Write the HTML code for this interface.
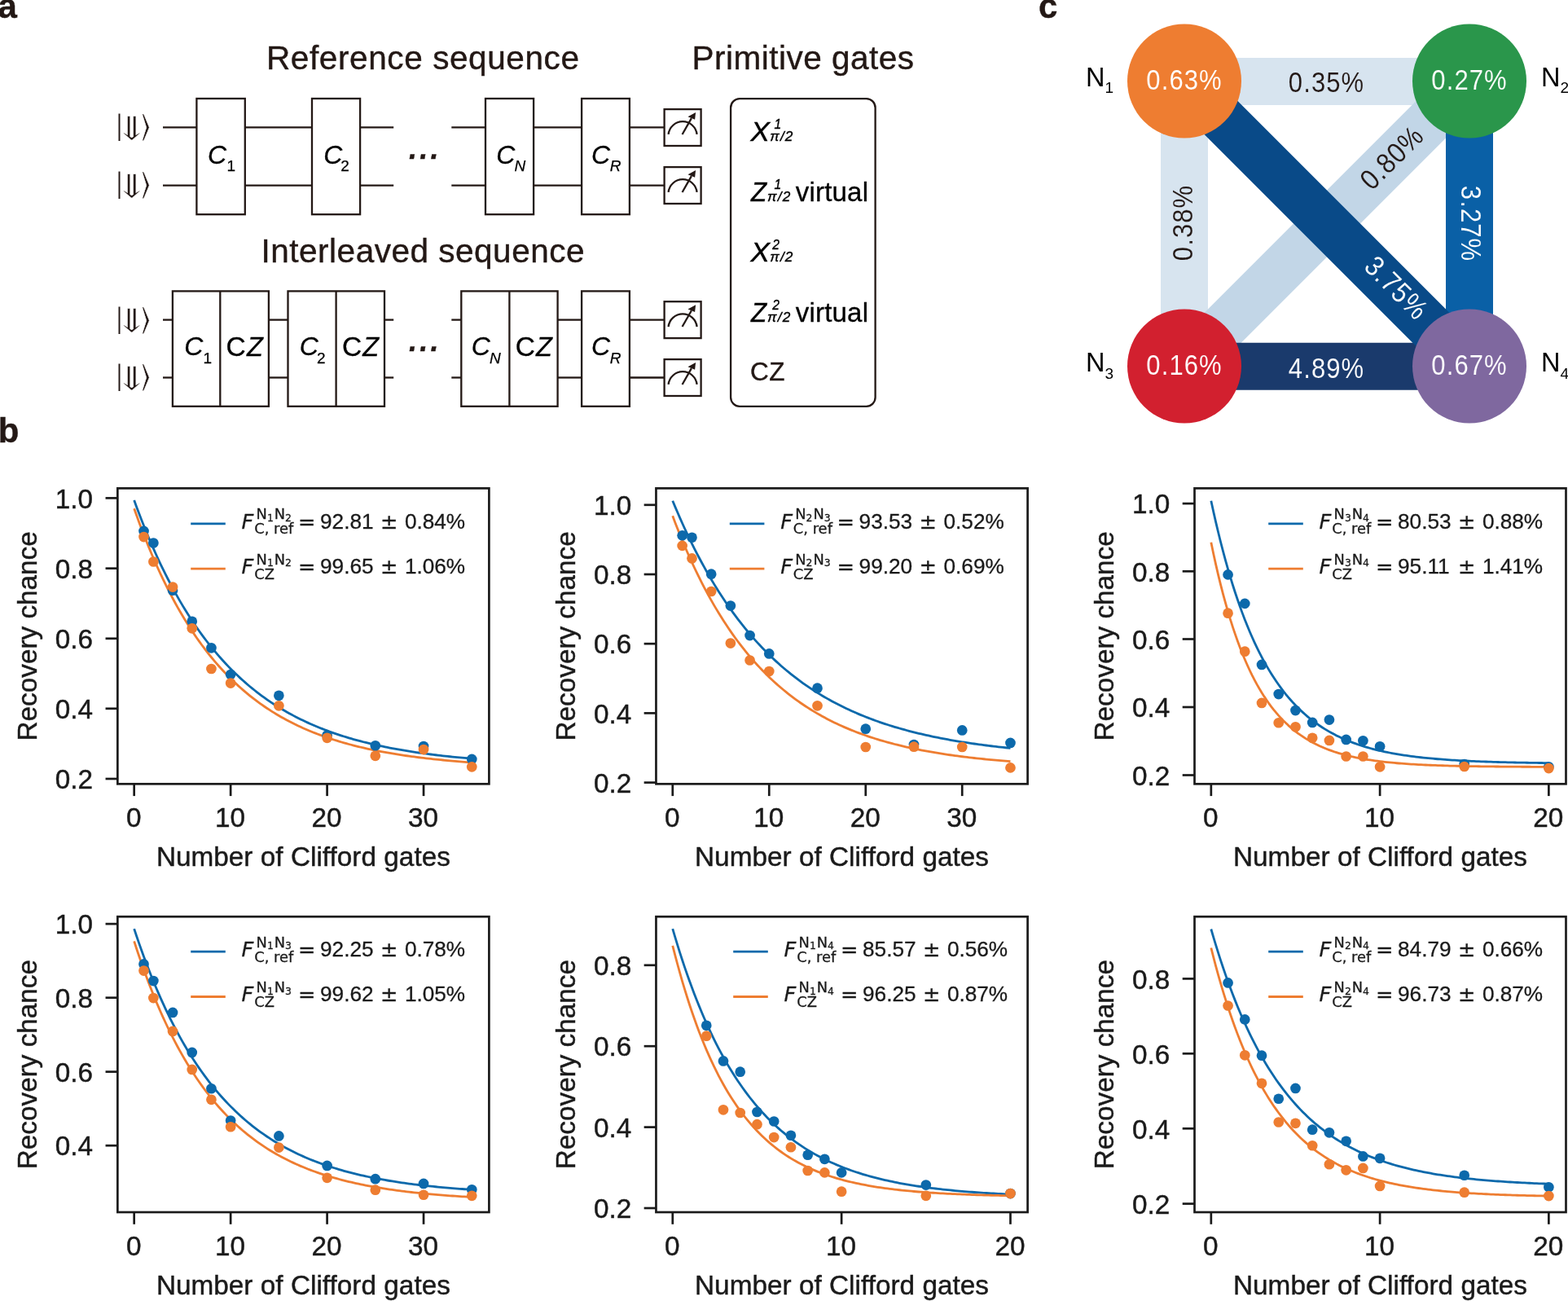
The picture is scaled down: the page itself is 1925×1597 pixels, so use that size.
<!DOCTYPE html>
<html lang="en">
<head>
<meta charset="utf-8">
<title>Randomized benchmarking figure</title>
<style>
html,body{margin:0;padding:0;background:#fff;}
body{width:1925px;height:1597px;overflow:hidden;}
svg{display:block;}
text{font-family:"Liberation Sans", sans-serif;}
.ink{fill:#231815;stroke:#231815;stroke-width:0.4px;}
.st{stroke:#231815;stroke-width:2.3;fill:none;}
.ax{stroke:#1a1a1a;stroke-width:2.7;fill:none;}
.tk{font-size:33.3px;fill:#1a1a1a;stroke:#1a1a1a;stroke-width:0.45px;}
.lg{font-size:25.6px;fill:#1a1a1a;stroke:#1a1a1a;stroke-width:0.3px;}
.dj{font-family:"DejaVu Sans", sans-serif;}
</style>
</head>
<body>
<svg width="1925" height="1597" viewBox="0 0 1925 1597">
<rect x="0" y="0" width="1925" height="1597" fill="#ffffff"/>
<g id="panel-a">
<text x="-2.4" y="22.2" font-size="42" font-weight="bold" class="ink">a</text>
<text x="-2.2" y="542.6" font-size="42" font-weight="bold" class="ink">b</text>
<text x="1274.9" y="22.4" font-size="42" font-weight="bold" class="ink">c</text>
<text x="327" y="84.8" font-size="40.5" class="ink" textLength="384" lengthAdjust="spacing">Reference sequence</text>
<text x="849.5" y="84.8" font-size="40.5" class="ink" textLength="272.5" lengthAdjust="spacing">Primitive gates</text>
<text x="320.5" y="321.5" font-size="40.5" class="ink" textLength="397" lengthAdjust="spacing">Interleaved sequence</text>
<line x1="200" y1="156.4" x2="241.4" y2="156.4" class="st"/>
<line x1="200" y1="227.7" x2="241.4" y2="227.7" class="st"/>
<line x1="300.8" y1="156.4" x2="383" y2="156.4" class="st"/>
<line x1="300.8" y1="227.7" x2="383" y2="227.7" class="st"/>
<line x1="442.1" y1="156.4" x2="483.2" y2="156.4" class="st"/>
<line x1="442.1" y1="227.7" x2="483.2" y2="227.7" class="st"/>
<line x1="554.3" y1="156.4" x2="596" y2="156.4" class="st"/>
<line x1="554.3" y1="227.7" x2="596" y2="227.7" class="st"/>
<line x1="655.1" y1="156.4" x2="714.1" y2="156.4" class="st"/>
<line x1="655.1" y1="227.7" x2="714.1" y2="227.7" class="st"/>
<line x1="772.9" y1="156.4" x2="815.6" y2="156.4" class="st"/>
<line x1="772.9" y1="227.7" x2="815.6" y2="227.7" class="st"/>
<rect x="241.4" y="121" width="59.4" height="142.2" class="st"/>
<text x="255.03" y="200.6" font-size="32" font-style="italic" fill="#000" stroke="#000" stroke-width="0.3">C</text>
<text x="278.4" y="209.8" font-size="19" fill="#000" stroke="#000" stroke-width="0.25">1</text>
<rect x="383" y="121" width="59.1" height="142.2" class="st"/>
<text x="397.18" y="200.6" font-size="32" font-style="italic" fill="#000" stroke="#000" stroke-width="0.3">C</text>
<text x="418.3" y="209.8" font-size="19" fill="#000" stroke="#000" stroke-width="0.25">2</text>
<rect x="596" y="121" width="59.1" height="142.2" class="st"/>
<text x="609.13" y="200.6" font-size="32" font-style="italic" fill="#000" stroke="#000" stroke-width="0.3">C</text>
<text x="631.5" y="209.8" font-size="19" fill="#000" stroke="#000" stroke-width="0.25" font-style="italic">N</text>
<rect x="714.1" y="121" width="58.8" height="142.2" class="st"/>
<text x="725.93" y="200.6" font-size="32" font-style="italic" fill="#000" stroke="#000" stroke-width="0.3">C</text>
<text x="748.7" y="209.8" font-size="19" fill="#000" stroke="#000" stroke-width="0.25" font-style="italic">R</text>
<g fill="#231815" stroke="#ffffff"><text style="font-family:'DejaVu Math TeX Gyre','DejaVu Sans',sans-serif" stroke-width="0" transform="translate(143 167.3) scale(0.8 1)" font-size="39">|</text><text style="font-family:'DejaVu Math TeX Gyre','DejaVu Sans',sans-serif" stroke-width="0.35" transform="translate(148.6 167.1) scale(1.16 1)" font-size="35">⇓</text><text style="font-family:'DejaVu Math TeX Gyre','DejaVu Sans',sans-serif" stroke-width="0.5" transform="translate(172.9 167.3) scale(0.78 1)" font-size="39">⟩</text></g>
<g fill="#231815" stroke="#ffffff"><text style="font-family:'DejaVu Math TeX Gyre','DejaVu Sans',sans-serif" stroke-width="0" transform="translate(143 238.4) scale(0.8 1)" font-size="39">|</text><text style="font-family:'DejaVu Math TeX Gyre','DejaVu Sans',sans-serif" stroke-width="0.35" transform="translate(148.6 238.2) scale(1.16 1)" font-size="35">⇓</text><text style="font-family:'DejaVu Math TeX Gyre','DejaVu Sans',sans-serif" stroke-width="0.5" transform="translate(172.9 238.4) scale(0.78 1)" font-size="39">⟩</text></g>
<text x="502" y="195.2" font-size="36" font-weight="bold" font-style="italic" class="ink" letter-spacing="3.3">...</text>
<rect x="815.6" y="134.1" width="45" height="44.9" class="st"/>
<path d="M820.6 164.95 A 17.6 17.6 0 0 1 855.6 164.95" class="st"/>
<line x1="837.6" y1="164.95" x2="848.9" y2="145.15" class="st"/>
<path d="M854.1 138.05 L853.1 146.85 L844.5 143.35 Z" fill="#231815"/>
<rect x="815.6" y="205.1" width="45" height="44.9" class="st"/>
<path d="M820.6 235.95 A 17.6 17.6 0 0 1 855.6 235.95" class="st"/>
<line x1="837.6" y1="235.95" x2="848.9" y2="216.15" class="st"/>
<path d="M854.1 209.05 L853.1 217.85 L844.5 214.35 Z" fill="#231815"/>
<line x1="200" y1="392.6" x2="211.9" y2="392.6" class="st"/>
<line x1="200" y1="463.5" x2="211.9" y2="463.5" class="st"/>
<line x1="329.9" y1="392.6" x2="353.5" y2="392.6" class="st"/>
<line x1="329.9" y1="463.5" x2="353.5" y2="463.5" class="st"/>
<line x1="472" y1="392.6" x2="483.2" y2="392.6" class="st"/>
<line x1="472" y1="463.5" x2="483.2" y2="463.5" class="st"/>
<line x1="554.3" y1="392.6" x2="566.3" y2="392.6" class="st"/>
<line x1="554.3" y1="463.5" x2="566.3" y2="463.5" class="st"/>
<line x1="684.6" y1="392.6" x2="714.1" y2="392.6" class="st"/>
<line x1="684.6" y1="463.5" x2="714.1" y2="463.5" class="st"/>
<line x1="772.9" y1="392.6" x2="815.6" y2="392.6" class="st"/>
<line x1="772.9" y1="463.5" x2="815.6" y2="463.5" class="st"/>
<rect x="211.9" y="357.4" width="118" height="141.4" class="st"/>
<line x1="270.3" y1="357.4" x2="270.3" y2="498.8" class="st"/>
<text x="226.13" y="436.4" font-size="32" font-style="italic" fill="#000" stroke="#000" stroke-width="0.3">C</text>
<text x="249.6" y="445.6" font-size="19" fill="#000" stroke="#000" stroke-width="0.25">1</text>
<text x="277.6" y="436.6" font-size="33.5" fill="#000" stroke="#000" stroke-width="0.3">C<tspan font-style="italic" font-size="32.5" dx="1.2">Z</tspan></text>
<rect x="353.5" y="357.4" width="118.5" height="141.4" class="st"/>
<line x1="412.6" y1="357.4" x2="412.6" y2="498.8" class="st"/>
<text x="367.83" y="436.4" font-size="32" font-style="italic" fill="#000" stroke="#000" stroke-width="0.3">C</text>
<text x="389" y="445.6" font-size="19" fill="#000" stroke="#000" stroke-width="0.25">2</text>
<text x="419.9" y="436.6" font-size="33.5" fill="#000" stroke="#000" stroke-width="0.3">C<tspan font-style="italic" font-size="32.5" dx="1.2">Z</tspan></text>
<rect x="566.3" y="357.4" width="118.3" height="141.4" class="st"/>
<line x1="625.4" y1="357.4" x2="625.4" y2="498.8" class="st"/>
<text x="578.73" y="436.4" font-size="32" font-style="italic" fill="#000" stroke="#000" stroke-width="0.3">C</text>
<text x="601.1" y="445.6" font-size="19" fill="#000" stroke="#000" stroke-width="0.25" font-style="italic">N</text>
<text x="632.7" y="436.6" font-size="33.5" fill="#000" stroke="#000" stroke-width="0.3">C<tspan font-style="italic" font-size="32.5" dx="1.2">Z</tspan></text>
<rect x="714.1" y="357.4" width="58.8" height="141.4" class="st"/>
<text x="725.93" y="436.4" font-size="32" font-style="italic" fill="#000" stroke="#000" stroke-width="0.3">C</text>
<text x="748.7" y="445.6" font-size="19" fill="#000" stroke="#000" stroke-width="0.25" font-style="italic">R</text>
<g fill="#231815" stroke="#ffffff"><text style="font-family:'DejaVu Math TeX Gyre','DejaVu Sans',sans-serif" stroke-width="0" transform="translate(143 403.5) scale(0.8 1)" font-size="39">|</text><text style="font-family:'DejaVu Math TeX Gyre','DejaVu Sans',sans-serif" stroke-width="0.35" transform="translate(148.6 403.3) scale(1.16 1)" font-size="35">⇓</text><text style="font-family:'DejaVu Math TeX Gyre','DejaVu Sans',sans-serif" stroke-width="0.5" transform="translate(172.9 403.5) scale(0.78 1)" font-size="39">⟩</text></g>
<g fill="#231815" stroke="#ffffff"><text style="font-family:'DejaVu Math TeX Gyre','DejaVu Sans',sans-serif" stroke-width="0" transform="translate(143 474.4) scale(0.8 1)" font-size="39">|</text><text style="font-family:'DejaVu Math TeX Gyre','DejaVu Sans',sans-serif" stroke-width="0.35" transform="translate(148.6 474.2) scale(1.16 1)" font-size="35">⇓</text><text style="font-family:'DejaVu Math TeX Gyre','DejaVu Sans',sans-serif" stroke-width="0.5" transform="translate(172.9 474.4) scale(0.78 1)" font-size="39">⟩</text></g>
<text x="502" y="431.4" font-size="36" font-weight="bold" font-style="italic" class="ink" letter-spacing="3.3">...</text>
<rect x="815.6" y="370.2" width="45" height="44.9" class="st"/>
<path d="M820.6 401.05 A 17.6 17.6 0 0 1 855.6 401.05" class="st"/>
<line x1="837.6" y1="401.05" x2="848.9" y2="381.25" class="st"/>
<path d="M854.1 374.15 L853.1 382.95 L844.5 379.45 Z" fill="#231815"/>
<rect x="815.6" y="441.1" width="45" height="44.9" class="st"/>
<path d="M820.6 471.95 A 17.6 17.6 0 0 1 855.6 471.95" class="st"/>
<line x1="837.6" y1="471.95" x2="848.9" y2="452.15" class="st"/>
<path d="M854.1 445.05 L853.1 453.85 L844.5 450.35 Z" fill="#231815"/>
<rect x="897.1" y="121.2" width="177.5" height="377.6" rx="11" class="st"/>
<text transform="translate(921.6 173.1) scale(1.08 1.03)" font-size="32.5" font-style="italic" fill="#000" stroke="#000" stroke-width="0.45">X</text>
<text x="950.4" y="158" font-size="15.6" font-style="italic" fill="#000" stroke="#000" stroke-width="0.35">1</text>
<text x="945.2" y="173.1" font-size="17.2" font-style="italic" fill="#000" stroke="#000" stroke-width="0.4" textLength="28.2" lengthAdjust="spacing">π/2</text>
<text transform="translate(922 246.9) scale(0.97 1.03)" font-size="32.2" font-style="italic" fill="#000" stroke="#000" stroke-width="0.45">Z</text>
<text x="950.4" y="231.8" font-size="15.6" font-style="italic" fill="#000" stroke="#000" stroke-width="0.35">1</text>
<text x="942.1" y="246.9" font-size="17.2" font-style="italic" fill="#000" stroke="#000" stroke-width="0.4" textLength="28.2" lengthAdjust="spacing">π/2</text>
<text x="976.8" y="246.9" font-size="33" fill="#000" stroke="#000" stroke-width="0.3" textLength="89.2" lengthAdjust="spacing">virtual</text>
<text transform="translate(921.6 320.6) scale(1.08 1.03)" font-size="32.5" font-style="italic" fill="#000" stroke="#000" stroke-width="0.45">X</text>
<text x="948.3" y="305.5" font-size="15.6" font-style="italic" fill="#000" stroke="#000" stroke-width="0.35">2</text>
<text x="945.2" y="320.6" font-size="17.2" font-style="italic" fill="#000" stroke="#000" stroke-width="0.4" textLength="28.2" lengthAdjust="spacing">π/2</text>
<text transform="translate(922 394.6) scale(0.97 1.03)" font-size="32.2" font-style="italic" fill="#000" stroke="#000" stroke-width="0.45">Z</text>
<text x="948.3" y="379.5" font-size="15.6" font-style="italic" fill="#000" stroke="#000" stroke-width="0.35">2</text>
<text x="942.1" y="394.6" font-size="17.2" font-style="italic" fill="#000" stroke="#000" stroke-width="0.4" textLength="28.2" lengthAdjust="spacing">π/2</text>
<text x="976.8" y="394.6" font-size="33" fill="#000" stroke="#000" stroke-width="0.3" textLength="89.2" lengthAdjust="spacing">virtual</text>
<text x="920.9" y="466.6" font-size="31.5" class="ink">C<tspan dx="0.6">Z</tspan></text>
</g>
<g id="panel-c">
<line x1="1454" y1="100" x2="1804" y2="100" stroke="#d7e4ef" stroke-width="58"/>
<line x1="1454" y1="99.5" x2="1454" y2="449.5" stroke="#d7e4ef" stroke-width="58"/>
<line x1="1804" y1="99.5" x2="1454" y2="449.5" stroke="#c2d6e7" stroke-width="58"/>
<line x1="1804" y1="99.5" x2="1804" y2="449.5" stroke="#0a60a6" stroke-width="58"/>
<line x1="1454" y1="449.7" x2="1804" y2="449.7" stroke="#1a3a6c" stroke-width="58"/>
<line x1="1454" y1="99.5" x2="1804" y2="449.5" stroke="#094a88" stroke-width="58"/>
<circle cx="1454" cy="99.5" r="70" fill="#ee7d31"/>
<circle cx="1804" cy="99.5" r="70" fill="#2a964b"/>
<circle cx="1454" cy="449.5" r="70" fill="#d2202f"/>
<circle cx="1804" cy="449.5" r="70" fill="#7f689f"/>
<text transform="translate(1453.5 97.9) translate(0.55 12.16) scale(0.9 1.025)" font-size="34.5" letter-spacing="1.2" fill="#fff" stroke="#ee7d31" stroke-width="0.12" text-anchor="middle">0.63%</text>
<text transform="translate(1803.5 97.9) translate(0.55 12.16) scale(0.9 1.025)" font-size="34.5" letter-spacing="1.2" fill="#fff" stroke="#2a964b" stroke-width="0.12" text-anchor="middle">0.27%</text>
<text transform="translate(1453.5 447.9) translate(0.55 12.16) scale(0.9 1.025)" font-size="34.5" letter-spacing="1.2" fill="#fff" stroke="#d2202f" stroke-width="0.12" text-anchor="middle">0.16%</text>
<text transform="translate(1803.5 447.9) translate(0.55 12.16) scale(0.9 1.025)" font-size="34.5" letter-spacing="1.2" fill="#fff" stroke="#7f689f" stroke-width="0.12" text-anchor="middle">0.67%</text>
<text transform="translate(1628 100.9) translate(0.55 12.16) scale(0.9 1.025)" font-size="34.5" letter-spacing="1.2" fill="#231815" stroke="#d7e4ef" stroke-width="0.12" text-anchor="middle">0.35%</text>
<text transform="translate(1628 451.9) translate(0.55 12.16) scale(0.9 1.025)" font-size="34.5" letter-spacing="1.2" fill="#fff" stroke="#1a3a6c" stroke-width="0.12" text-anchor="middle">4.89%</text>
<text transform="translate(1451.8 274) rotate(-90) translate(0.55 12.16) scale(0.9 1.025)" font-size="34.5" letter-spacing="1.2" fill="#231815" stroke="#d7e4ef" stroke-width="0.12" text-anchor="middle">0.38%</text>
<text transform="translate(1806.2 274) rotate(90) translate(0.55 12.16) scale(0.9 1.025)" font-size="34.5" letter-spacing="1.2" fill="#fff" stroke="#0a60a6" stroke-width="0.12" text-anchor="middle">3.27%</text>
<text transform="translate(1708.2 193.7) rotate(-45) translate(0.55 12.16) scale(0.9 1.025)" font-size="34.5" letter-spacing="1.2" fill="#231815" stroke="#c2d6e7" stroke-width="0.12" text-anchor="middle">0.80%</text>
<text transform="translate(1714.3 353) rotate(45) translate(0.55 12.16) scale(0.9 1.025)" font-size="34.5" letter-spacing="1.2" fill="#fff" stroke="#094a88" stroke-width="0.12" text-anchor="middle">3.75%</text>
<text x="1333" y="105.5" font-size="32.5" fill="#000">N<tspan font-size="19" dy="8.5">1</tspan></text>
<text x="1892" y="105.5" font-size="32.5" fill="#000">N<tspan font-size="19" dy="8.5">2</tspan></text>
<text x="1333" y="456" font-size="32.5" fill="#000">N<tspan font-size="19" dy="8.5">3</tspan></text>
<text x="1892" y="456" font-size="32.5" fill="#000">N<tspan font-size="19" dy="8.5">4</tspan></text>
</g>
<g id="p1">
<path d="M164.68 614.09 L167.64 622.18 L170.6 630.06 L173.56 637.75 L176.52 645.24 L179.49 652.56 L182.45 659.69 L185.41 666.64 L188.37 673.43 L191.33 680.04 L194.29 686.5 L197.25 692.79 L200.22 698.93 L203.18 704.91 L206.14 710.75 L209.1 716.44 L212.06 721.99 L215.02 727.41 L217.98 732.69 L220.95 737.84 L223.91 742.87 L226.87 747.76 L229.83 752.54 L232.79 757.2 L235.75 761.75 L238.71 766.18 L241.67 770.5 L244.64 774.72 L247.6 778.83 L250.56 782.84 L253.52 786.75 L256.48 790.57 L259.44 794.29 L262.4 797.91 L265.37 801.45 L268.33 804.9 L271.29 808.27 L274.25 811.55 L277.21 814.75 L280.17 817.87 L283.13 820.92 L286.1 823.89 L289.06 826.79 L292.02 829.61 L294.98 832.37 L297.94 835.05 L300.9 837.67 L303.86 840.23 L306.82 842.72 L309.79 845.15 L312.75 847.52 L315.71 849.83 L318.67 852.09 L321.63 854.29 L324.59 856.43 L327.55 858.52 L330.52 860.56 L333.48 862.55 L336.44 864.49 L339.4 866.39 L342.36 868.23 L345.32 870.03 L348.28 871.79 L351.25 873.5 L354.21 875.17 L357.17 876.8 L360.13 878.39 L363.09 879.94 L366.05 881.45 L369.01 882.92 L371.97 884.36 L374.94 885.76 L377.9 887.13 L380.86 888.46 L383.82 889.76 L386.78 891.03 L389.74 892.26 L392.7 893.47 L395.67 894.65 L398.63 895.79 L401.59 896.91 L404.55 898 L407.51 899.07 L410.47 900.11 L413.43 901.12 L416.4 902.1 L419.36 903.07 L422.32 904.01 L425.28 904.92 L428.24 905.82 L431.2 906.69 L434.16 907.54 L437.12 908.36 L440.09 909.17 L443.05 909.96 L446.01 910.73 L448.97 911.48 L451.93 912.21 L454.89 912.92 L457.85 913.62 L460.82 914.3 L463.78 914.96 L466.74 915.6 L469.7 916.23 L472.66 916.84 L475.62 917.44 L478.58 918.03 L481.55 918.6 L484.51 919.15 L487.47 919.69 L490.43 920.22 L493.39 920.74 L496.35 921.24 L499.31 921.73 L502.27 922.21 L505.24 922.67 L508.2 923.13 L511.16 923.57 L514.12 924 L517.08 924.42 L520.04 924.83 L523 925.23 L525.97 925.63 L528.93 926.01 L531.89 926.38 L534.85 926.74 L537.81 927.09 L540.77 927.44 L543.73 927.78 L546.7 928.1 L549.66 928.42 L552.62 928.74 L555.58 929.04 L558.54 929.34 L561.5 929.63 L564.46 929.91 L567.42 930.19 L570.39 930.45 L573.35 930.72 L576.31 930.97 L579.27 931.22" fill="none" stroke="#0c69ab" stroke-width="2.8" stroke-linejoin="round"/>
<path d="M164.68 624.24 L167.64 632.58 L170.6 640.71 L173.56 648.62 L176.52 656.33 L179.49 663.83 L182.45 671.14 L185.41 678.26 L188.37 685.19 L191.33 691.94 L194.29 698.52 L197.25 704.92 L200.22 711.16 L203.18 717.23 L206.14 723.15 L209.1 728.91 L212.06 734.52 L215.02 739.98 L217.98 745.31 L220.95 750.49 L223.91 755.54 L226.87 760.45 L229.83 765.24 L232.79 769.9 L235.75 774.44 L238.71 778.86 L241.67 783.17 L244.64 787.36 L247.6 791.45 L250.56 795.43 L253.52 799.3 L256.48 803.07 L259.44 806.75 L262.4 810.33 L265.37 813.81 L268.33 817.21 L271.29 820.51 L274.25 823.73 L277.21 826.87 L280.17 829.92 L283.13 832.89 L286.1 835.79 L289.06 838.61 L292.02 841.36 L294.98 844.03 L297.94 846.64 L300.9 849.17 L303.86 851.65 L306.82 854.05 L309.79 856.4 L312.75 858.68 L315.71 860.9 L318.67 863.07 L321.63 865.17 L324.59 867.23 L327.55 869.23 L330.52 871.17 L333.48 873.07 L336.44 874.92 L339.4 876.72 L342.36 878.47 L345.32 880.18 L348.28 881.84 L351.25 883.46 L354.21 885.03 L357.17 886.57 L360.13 888.06 L363.09 889.52 L366.05 890.94 L369.01 892.32 L371.97 893.66 L374.94 894.97 L377.9 896.25 L380.86 897.49 L383.82 898.7 L386.78 899.88 L389.74 901.02 L392.7 902.14 L395.67 903.23 L398.63 904.29 L401.59 905.32 L404.55 906.33 L407.51 907.31 L410.47 908.26 L413.43 909.19 L416.4 910.09 L419.36 910.97 L422.32 911.83 L425.28 912.67 L428.24 913.48 L431.2 914.27 L434.16 915.04 L437.12 915.79 L440.09 916.53 L443.05 917.24 L446.01 917.93 L448.97 918.61 L451.93 919.27 L454.89 919.91 L457.85 920.53 L460.82 921.14 L463.78 921.73 L466.74 922.31 L469.7 922.87 L472.66 923.42 L475.62 923.95 L478.58 924.47 L481.55 924.98 L484.51 925.47 L487.47 925.95 L490.43 926.41 L493.39 926.87 L496.35 927.31 L499.31 927.74 L502.27 928.16 L505.24 928.57 L508.2 928.97 L511.16 929.36 L514.12 929.74 L517.08 930.1 L520.04 930.46 L523 930.81 L525.97 931.15 L528.93 931.48 L531.89 931.8 L534.85 932.12 L537.81 932.42 L540.77 932.72 L543.73 933.01 L546.7 933.29 L549.66 933.57 L552.62 933.84 L555.58 934.1 L558.54 934.35 L561.5 934.6 L564.46 934.84 L567.42 935.07 L570.39 935.3 L573.35 935.53 L576.31 935.74 L579.27 935.95" fill="none" stroke="#ee7d31" stroke-width="2.8" stroke-linejoin="round"/>
<circle cx="176.52" cy="651.96" r="6.35" fill="#0c69ab"/>
<circle cx="188.37" cy="666.5" r="6.35" fill="#0c69ab"/>
<circle cx="212.06" cy="724.65" r="6.35" fill="#0c69ab"/>
<circle cx="235.75" cy="762.85" r="6.35" fill="#0c69ab"/>
<circle cx="259.44" cy="795.31" r="6.35" fill="#0c69ab"/>
<circle cx="283.13" cy="828.1" r="6.35" fill="#0c69ab"/>
<circle cx="342.36" cy="853.8" r="6.35" fill="#0c69ab"/>
<circle cx="401.59" cy="902.48" r="6.35" fill="#0c69ab"/>
<circle cx="460.82" cy="915.33" r="6.35" fill="#0c69ab"/>
<circle cx="520.04" cy="916.01" r="6.35" fill="#0c69ab"/>
<circle cx="579.27" cy="931.9" r="6.35" fill="#0c69ab"/>
<circle cx="176.52" cy="659.06" r="6.35" fill="#ee7d31"/>
<circle cx="188.37" cy="689.49" r="6.35" fill="#ee7d31"/>
<circle cx="212.06" cy="720.59" r="6.35" fill="#ee7d31"/>
<circle cx="235.75" cy="771.3" r="6.35" fill="#ee7d31"/>
<circle cx="259.44" cy="821" r="6.35" fill="#ee7d31"/>
<circle cx="283.13" cy="838.58" r="6.35" fill="#ee7d31"/>
<circle cx="342.36" cy="866.31" r="6.35" fill="#ee7d31"/>
<circle cx="401.59" cy="905.86" r="6.35" fill="#ee7d31"/>
<circle cx="460.82" cy="927.84" r="6.35" fill="#ee7d31"/>
<circle cx="520.04" cy="920.06" r="6.35" fill="#ee7d31"/>
<circle cx="579.27" cy="941.36" r="6.35" fill="#ee7d31"/>
<rect x="144.35" y="599.4" width="456.05" height="362.9" class="ax"/>
<line x1="129.55" y1="611.4" x2="144.35" y2="611.4" class="ax"/>
<text x="114.15" y="623.6" class="tk" text-anchor="end">1.0</text>
<line x1="129.55" y1="697.7" x2="144.35" y2="697.7" class="ax"/>
<text x="114.15" y="709.9" class="tk" text-anchor="end">0.8</text>
<line x1="129.55" y1="783.8" x2="144.35" y2="783.8" class="ax"/>
<text x="114.15" y="796" class="tk" text-anchor="end">0.6</text>
<line x1="129.55" y1="869.8" x2="144.35" y2="869.8" class="ax"/>
<text x="114.15" y="882" class="tk" text-anchor="end">0.4</text>
<line x1="129.55" y1="956" x2="144.35" y2="956" class="ax"/>
<text x="114.15" y="968.2" class="tk" text-anchor="end">0.2</text>
<line x1="164.68" y1="962.3" x2="164.68" y2="977.1" class="ax"/>
<text x="164.18" y="1014.9" class="tk" text-anchor="middle">0</text>
<line x1="283.13" y1="962.3" x2="283.13" y2="977.1" class="ax"/>
<text x="282.63" y="1014.9" class="tk" text-anchor="middle">10</text>
<line x1="401.59" y1="962.3" x2="401.59" y2="977.1" class="ax"/>
<text x="401.09" y="1014.9" class="tk" text-anchor="middle">20</text>
<line x1="520.04" y1="962.3" x2="520.04" y2="977.1" class="ax"/>
<text x="519.54" y="1014.9" class="tk" text-anchor="middle">30</text>
<text x="372.38" y="1062.9" class="tk" text-anchor="middle" textLength="361" lengthAdjust="spacing">Number of Clifford gates</text>
<text x="44.85" y="780.85" class="tk" text-anchor="middle" transform="rotate(-90 44.85 780.85)" textLength="257.2" lengthAdjust="spacing">Recovery chance</text>
<line x1="234.2" y1="642.8" x2="276.8" y2="642.8" stroke="#0c69ab" stroke-width="2.8"/>
<text x="296.6" y="648.5" class="lg dj" font-style="italic">F</text>
<text x="314.6" y="637.3" class="lg dj" style="font-size:17.8px">N<tspan style="font-size:12.4px" dy="2.7">1</tspan><tspan dy="-2.7" dx="1">N</tspan><tspan style="font-size:12.4px" dy="2.7">2</tspan></text>
<text x="312.2" y="655.3" class="lg dj" style="font-size:17.9px">C, ref</text>
<text x="365.9" y="648.5" class="lg dj">=</text>
<text x="393" y="648.5" class="lg" style="font-size:26.2px">92.81</text>
<text x="466.9" y="648.5" class="lg dj">±</text>
<text x="496.9" y="648.5" class="lg" style="font-size:26.2px">0.84%</text>
<line x1="234.2" y1="698.1" x2="276.8" y2="698.1" stroke="#ee7d31" stroke-width="2.8"/>
<text x="296.6" y="703.8" class="lg dj" font-style="italic">F</text>
<text x="314.6" y="692.6" class="lg dj" style="font-size:17.8px">N<tspan style="font-size:12.4px" dy="2.7">1</tspan><tspan dy="-2.7" dx="1">N</tspan><tspan style="font-size:12.4px" dy="2.7">2</tspan></text>
<text x="312.2" y="710.6" class="lg dj" style="font-size:17.9px">CZ</text>
<text x="365.9" y="703.8" class="lg dj">=</text>
<text x="393" y="703.8" class="lg" style="font-size:26.2px">99.65</text>
<text x="466.9" y="703.8" class="lg dj">±</text>
<text x="496.9" y="703.8" class="lg" style="font-size:26.2px">1.06%</text>
</g>
<g id="p2">
<path d="M825.78 614.77 L828.75 621.88 L831.71 628.82 L834.67 635.61 L837.63 642.25 L840.59 648.74 L843.56 655.08 L846.52 661.28 L849.48 667.34 L852.44 673.27 L855.4 679.06 L858.37 684.73 L861.33 690.26 L864.29 695.67 L867.25 700.97 L870.21 706.14 L873.18 711.19 L876.14 716.14 L879.1 720.97 L882.06 725.69 L885.02 730.31 L887.99 734.82 L890.95 739.24 L893.91 743.55 L896.87 747.77 L899.83 751.89 L902.8 755.92 L905.76 759.86 L908.72 763.71 L911.68 767.48 L914.64 771.16 L917.61 774.76 L920.57 778.27 L923.53 781.71 L926.49 785.07 L929.45 788.36 L932.42 791.57 L935.38 794.71 L938.34 797.78 L941.3 800.78 L944.26 803.72 L947.23 806.59 L950.19 809.39 L953.15 812.13 L956.11 814.81 L959.07 817.43 L962.04 819.99 L965 822.49 L967.96 824.94 L970.92 827.33 L973.88 829.67 L976.85 831.96 L979.81 834.19 L982.77 836.37 L985.73 838.51 L988.69 840.6 L991.66 842.64 L994.62 844.63 L997.58 846.58 L1000.54 848.49 L1003.5 850.36 L1006.47 852.18 L1009.43 853.96 L1012.39 855.7 L1015.35 857.4 L1018.31 859.07 L1021.28 860.69 L1024.24 862.28 L1027.2 863.84 L1030.16 865.36 L1033.12 866.84 L1036.09 868.3 L1039.05 869.72 L1042.01 871.1 L1044.97 872.46 L1047.94 873.79 L1050.9 875.08 L1053.86 876.35 L1056.82 877.59 L1059.78 878.8 L1062.75 879.99 L1065.71 881.14 L1068.67 882.28 L1071.63 883.38 L1074.59 884.46 L1077.56 885.52 L1080.52 886.56 L1083.48 887.57 L1086.44 888.55 L1089.4 889.52 L1092.37 890.46 L1095.33 891.39 L1098.29 892.29 L1101.25 893.17 L1104.21 894.03 L1107.18 894.87 L1110.14 895.7 L1113.1 896.5 L1116.06 897.29 L1119.02 898.06 L1121.99 898.81 L1124.95 899.55 L1127.91 900.27 L1130.87 900.97 L1133.83 901.66 L1136.8 902.33 L1139.76 902.99 L1142.72 903.63 L1145.68 904.26 L1148.64 904.87 L1151.61 905.47 L1154.57 906.05 L1157.53 906.63 L1160.49 907.19 L1163.45 907.74 L1166.42 908.27 L1169.38 908.79 L1172.34 909.31 L1175.3 909.81 L1178.26 910.3 L1181.23 910.77 L1184.19 911.24 L1187.15 911.7 L1190.11 912.14 L1193.07 912.58 L1196.04 913.01 L1199 913.43 L1201.96 913.83 L1204.92 914.23 L1207.88 914.62 L1210.85 915 L1213.81 915.37 L1216.77 915.74 L1219.73 916.09 L1222.69 916.44 L1225.66 916.78 L1228.62 917.12 L1231.58 917.44 L1234.54 917.76 L1237.5 918.07 L1240.47 918.37" fill="none" stroke="#0c69ab" stroke-width="2.8" stroke-linejoin="round"/>
<path d="M825.78 633.37 L828.75 641.14 L831.71 648.72 L834.67 656.11 L837.63 663.32 L840.59 670.34 L843.56 677.19 L846.52 683.87 L849.48 690.37 L852.44 696.72 L855.4 702.91 L858.37 708.94 L861.33 714.82 L864.29 720.55 L867.25 726.14 L870.21 731.59 L873.18 736.9 L876.14 742.08 L879.1 747.13 L882.06 752.05 L885.02 756.85 L887.99 761.53 L890.95 766.09 L893.91 770.54 L896.87 774.88 L899.83 779.1 L902.8 783.23 L905.76 787.24 L908.72 791.16 L911.68 794.98 L914.64 798.7 L917.61 802.33 L920.57 805.87 L923.53 809.32 L926.49 812.68 L929.45 815.96 L932.42 819.16 L935.38 822.28 L938.34 825.32 L941.3 828.28 L944.26 831.17 L947.23 833.98 L950.19 836.73 L953.15 839.4 L956.11 842.01 L959.07 844.56 L962.04 847.04 L965 849.45 L967.96 851.81 L970.92 854.11 L973.88 856.35 L976.85 858.53 L979.81 860.66 L982.77 862.74 L985.73 864.76 L988.69 866.74 L991.66 868.66 L994.62 870.54 L997.58 872.36 L1000.54 874.15 L1003.5 875.89 L1006.47 877.58 L1009.43 879.23 L1012.39 880.84 L1015.35 882.41 L1018.31 883.94 L1021.28 885.44 L1024.24 886.89 L1027.2 888.31 L1030.16 889.69 L1033.12 891.04 L1036.09 892.35 L1039.05 893.64 L1042.01 894.89 L1044.97 896.1 L1047.94 897.29 L1050.9 898.45 L1053.86 899.58 L1056.82 900.68 L1059.78 901.75 L1062.75 902.8 L1065.71 903.82 L1068.67 904.81 L1071.63 905.78 L1074.59 906.72 L1077.56 907.65 L1080.52 908.54 L1083.48 909.42 L1086.44 910.27 L1089.4 911.11 L1092.37 911.92 L1095.33 912.71 L1098.29 913.48 L1101.25 914.23 L1104.21 914.96 L1107.18 915.68 L1110.14 916.37 L1113.1 917.05 L1116.06 917.72 L1119.02 918.36 L1121.99 918.99 L1124.95 919.6 L1127.91 920.2 L1130.87 920.79 L1133.83 921.35 L1136.8 921.91 L1139.76 922.45 L1142.72 922.98 L1145.68 923.49 L1148.64 923.99 L1151.61 924.48 L1154.57 924.96 L1157.53 925.42 L1160.49 925.87 L1163.45 926.31 L1166.42 926.74 L1169.38 927.16 L1172.34 927.57 L1175.3 927.97 L1178.26 928.36 L1181.23 928.74 L1184.19 929.11 L1187.15 929.47 L1190.11 929.82 L1193.07 930.16 L1196.04 930.49 L1199 930.82 L1201.96 931.13 L1204.92 931.44 L1207.88 931.75 L1210.85 932.04 L1213.81 932.33 L1216.77 932.6 L1219.73 932.88 L1222.69 933.14 L1225.66 933.4 L1228.62 933.65 L1231.58 933.9 L1234.54 934.14 L1237.5 934.37 L1240.47 934.6" fill="none" stroke="#ee7d31" stroke-width="2.8" stroke-linejoin="round"/>
<circle cx="837.63" cy="657.37" r="6.35" fill="#0c69ab"/>
<circle cx="849.48" cy="659.74" r="6.35" fill="#0c69ab"/>
<circle cx="873.18" cy="704.7" r="6.35" fill="#0c69ab"/>
<circle cx="896.87" cy="743.58" r="6.35" fill="#0c69ab"/>
<circle cx="920.57" cy="780.1" r="6.35" fill="#0c69ab"/>
<circle cx="944.26" cy="802.41" r="6.35" fill="#0c69ab"/>
<circle cx="1003.5" cy="844.67" r="6.35" fill="#0c69ab"/>
<circle cx="1062.75" cy="894.71" r="6.35" fill="#0c69ab"/>
<circle cx="1121.99" cy="913.98" r="6.35" fill="#0c69ab"/>
<circle cx="1181.23" cy="896.4" r="6.35" fill="#0c69ab"/>
<circle cx="1240.47" cy="911.95" r="6.35" fill="#0c69ab"/>
<circle cx="837.63" cy="669.88" r="6.35" fill="#ee7d31"/>
<circle cx="849.48" cy="685.43" r="6.35" fill="#ee7d31"/>
<circle cx="873.18" cy="726" r="6.35" fill="#ee7d31"/>
<circle cx="896.87" cy="789.56" r="6.35" fill="#ee7d31"/>
<circle cx="920.57" cy="810.52" r="6.35" fill="#ee7d31"/>
<circle cx="944.26" cy="824.05" r="6.35" fill="#ee7d31"/>
<circle cx="1003.5" cy="866.31" r="6.35" fill="#ee7d31"/>
<circle cx="1062.75" cy="917.02" r="6.35" fill="#ee7d31"/>
<circle cx="1121.99" cy="916.68" r="6.35" fill="#ee7d31"/>
<circle cx="1181.23" cy="917.02" r="6.35" fill="#ee7d31"/>
<circle cx="1240.47" cy="942.38" r="6.35" fill="#ee7d31"/>
<rect x="805.45" y="599.4" width="456.15" height="362.9" class="ax"/>
<line x1="790.65" y1="619.8" x2="805.45" y2="619.8" class="ax"/>
<text x="775.25" y="632" class="tk" text-anchor="end">1.0</text>
<line x1="790.65" y1="705" x2="805.45" y2="705" class="ax"/>
<text x="775.25" y="717.2" class="tk" text-anchor="end">0.8</text>
<line x1="790.65" y1="790.2" x2="805.45" y2="790.2" class="ax"/>
<text x="775.25" y="802.4" class="tk" text-anchor="end">0.6</text>
<line x1="790.65" y1="875.4" x2="805.45" y2="875.4" class="ax"/>
<text x="775.25" y="887.6" class="tk" text-anchor="end">0.4</text>
<line x1="790.65" y1="960.6" x2="805.45" y2="960.6" class="ax"/>
<text x="775.25" y="972.8" class="tk" text-anchor="end">0.2</text>
<line x1="825.78" y1="962.3" x2="825.78" y2="977.1" class="ax"/>
<text x="825.28" y="1014.9" class="tk" text-anchor="middle">0</text>
<line x1="944.26" y1="962.3" x2="944.26" y2="977.1" class="ax"/>
<text x="943.76" y="1014.9" class="tk" text-anchor="middle">10</text>
<line x1="1062.75" y1="962.3" x2="1062.75" y2="977.1" class="ax"/>
<text x="1062.25" y="1014.9" class="tk" text-anchor="middle">20</text>
<line x1="1181.23" y1="962.3" x2="1181.23" y2="977.1" class="ax"/>
<text x="1180.73" y="1014.9" class="tk" text-anchor="middle">30</text>
<text x="1033.53" y="1062.9" class="tk" text-anchor="middle" textLength="361" lengthAdjust="spacing">Number of Clifford gates</text>
<text x="705.95" y="780.85" class="tk" text-anchor="middle" transform="rotate(-90 705.95 780.85)" textLength="257.2" lengthAdjust="spacing">Recovery chance</text>
<line x1="895.8" y1="642.8" x2="938.4" y2="642.8" stroke="#0c69ab" stroke-width="2.8"/>
<text x="958.2" y="648.5" class="lg dj" font-style="italic">F</text>
<text x="976.2" y="637.3" class="lg dj" style="font-size:17.8px">N<tspan style="font-size:12.4px" dy="2.7">2</tspan><tspan dy="-2.7" dx="1">N</tspan><tspan style="font-size:12.4px" dy="2.7">3</tspan></text>
<text x="973.8" y="655.3" class="lg dj" style="font-size:17.9px">C, ref</text>
<text x="1027.5" y="648.5" class="lg dj">=</text>
<text x="1054.6" y="648.5" class="lg" style="font-size:26.2px">93.53</text>
<text x="1128.5" y="648.5" class="lg dj">±</text>
<text x="1158.5" y="648.5" class="lg" style="font-size:26.2px">0.52%</text>
<line x1="895.8" y1="698.1" x2="938.4" y2="698.1" stroke="#ee7d31" stroke-width="2.8"/>
<text x="958.2" y="703.8" class="lg dj" font-style="italic">F</text>
<text x="976.2" y="692.6" class="lg dj" style="font-size:17.8px">N<tspan style="font-size:12.4px" dy="2.7">2</tspan><tspan dy="-2.7" dx="1">N</tspan><tspan style="font-size:12.4px" dy="2.7">3</tspan></text>
<text x="973.8" y="710.6" class="lg dj" style="font-size:17.9px">CZ</text>
<text x="1027.5" y="703.8" class="lg dj">=</text>
<text x="1054.6" y="703.8" class="lg" style="font-size:26.2px">99.20</text>
<text x="1128.5" y="703.8" class="lg dj">±</text>
<text x="1158.5" y="703.8" class="lg" style="font-size:26.2px">0.69%</text>
</g>
<g id="p3">
<path d="M1486.83 614.77 L1489.79 628.34 L1492.75 641.34 L1495.71 653.8 L1498.67 665.72 L1501.63 677.15 L1504.59 688.1 L1507.55 698.59 L1510.52 708.63 L1513.48 718.26 L1516.44 727.47 L1519.4 736.3 L1522.36 744.76 L1525.32 752.87 L1528.28 760.63 L1531.24 768.07 L1534.2 775.19 L1537.16 782.01 L1540.13 788.55 L1543.09 794.81 L1546.05 800.81 L1549.01 806.56 L1551.97 812.06 L1554.93 817.33 L1557.89 822.38 L1560.85 827.22 L1563.81 831.86 L1566.78 836.3 L1569.74 840.55 L1572.7 844.62 L1575.66 848.53 L1578.62 852.27 L1581.58 855.85 L1584.54 859.28 L1587.5 862.57 L1590.46 865.71 L1593.42 868.73 L1596.39 871.62 L1599.35 874.39 L1602.31 877.04 L1605.27 879.58 L1608.23 882.01 L1611.19 884.34 L1614.15 886.57 L1617.11 888.71 L1620.07 890.76 L1623.04 892.72 L1626 894.6 L1628.96 896.4 L1631.92 898.13 L1634.88 899.78 L1637.84 901.36 L1640.8 902.88 L1643.76 904.33 L1646.72 905.72 L1649.68 907.06 L1652.65 908.33 L1655.61 909.56 L1658.57 910.73 L1661.53 911.85 L1664.49 912.93 L1667.45 913.96 L1670.41 914.94 L1673.37 915.89 L1676.33 916.8 L1679.29 917.66 L1682.26 918.49 L1685.22 919.29 L1688.18 920.05 L1691.14 920.78 L1694.1 921.48 L1697.06 922.15 L1700.02 922.79 L1702.98 923.41 L1705.94 924 L1708.91 924.56 L1711.87 925.1 L1714.83 925.62 L1717.79 926.12 L1720.75 926.59 L1723.71 927.05 L1726.67 927.48 L1729.63 927.9 L1732.59 928.3 L1735.55 928.69 L1738.52 929.05 L1741.48 929.4 L1744.44 929.74 L1747.4 930.06 L1750.36 930.37 L1753.32 930.67 L1756.28 930.95 L1759.24 931.23 L1762.2 931.49 L1765.16 931.74 L1768.13 931.97 L1771.09 932.2 L1774.05 932.42 L1777.01 932.63 L1779.97 932.83 L1782.93 933.03 L1785.89 933.21 L1788.85 933.39 L1791.81 933.56 L1794.78 933.72 L1797.74 933.88 L1800.7 934.02 L1803.66 934.17 L1806.62 934.3 L1809.58 934.43 L1812.54 934.56 L1815.5 934.68 L1818.46 934.8 L1821.42 934.91 L1824.39 935.01 L1827.35 935.11 L1830.31 935.21 L1833.27 935.3 L1836.23 935.39 L1839.19 935.48 L1842.15 935.56 L1845.11 935.64 L1848.07 935.71 L1851.04 935.78 L1854 935.85 L1856.96 935.92 L1859.92 935.98 L1862.88 936.04 L1865.84 936.1 L1868.8 936.15 L1871.76 936.21 L1874.72 936.26 L1877.68 936.31 L1880.65 936.35 L1883.61 936.4 L1886.57 936.44 L1889.53 936.48 L1892.49 936.52 L1895.45 936.56 L1898.41 936.6 L1901.37 936.63" fill="none" stroke="#0c69ab" stroke-width="2.8" stroke-linejoin="round"/>
<path d="M1486.83 665.82 L1489.79 679.95 L1492.75 693.36 L1495.71 706.08 L1498.67 718.15 L1501.63 729.6 L1504.59 740.47 L1507.55 750.77 L1510.52 760.55 L1513.48 769.83 L1516.44 778.63 L1519.4 786.98 L1522.36 794.9 L1525.32 802.42 L1528.28 809.55 L1531.24 816.31 L1534.2 822.73 L1537.16 828.82 L1540.13 834.6 L1543.09 840.08 L1546.05 845.28 L1549.01 850.21 L1551.97 854.9 L1554.93 859.34 L1557.89 863.55 L1560.85 867.55 L1563.81 871.34 L1566.78 874.94 L1569.74 878.35 L1572.7 881.59 L1575.66 884.66 L1578.62 887.58 L1581.58 890.34 L1584.54 892.97 L1587.5 895.46 L1590.46 897.82 L1593.42 900.06 L1596.39 902.19 L1599.35 904.2 L1602.31 906.12 L1605.27 907.93 L1608.23 909.66 L1611.19 911.29 L1614.15 912.84 L1617.11 914.31 L1620.07 915.71 L1623.04 917.03 L1626 918.29 L1628.96 919.48 L1631.92 920.61 L1634.88 921.68 L1637.84 922.7 L1640.8 923.67 L1643.76 924.58 L1646.72 925.45 L1649.68 926.27 L1652.65 927.06 L1655.61 927.8 L1658.57 928.5 L1661.53 929.17 L1664.49 929.81 L1667.45 930.41 L1670.41 930.98 L1673.37 931.52 L1676.33 932.03 L1679.29 932.52 L1682.26 932.98 L1685.22 933.42 L1688.18 933.84 L1691.14 934.23 L1694.1 934.61 L1697.06 934.96 L1700.02 935.3 L1702.98 935.62 L1705.94 935.92 L1708.91 936.21 L1711.87 936.48 L1714.83 936.74 L1717.79 936.99 L1720.75 937.22 L1723.71 937.44 L1726.67 937.65 L1729.63 937.85 L1732.59 938.04 L1735.55 938.22 L1738.52 938.39 L1741.48 938.55 L1744.44 938.7 L1747.4 938.85 L1750.36 938.99 L1753.32 939.12 L1756.28 939.24 L1759.24 939.36 L1762.2 939.47 L1765.16 939.58 L1768.13 939.68 L1771.09 939.77 L1774.05 939.86 L1777.01 939.95 L1779.97 940.03 L1782.93 940.11 L1785.89 940.18 L1788.85 940.25 L1791.81 940.32 L1794.78 940.38 L1797.74 940.44 L1800.7 940.49 L1803.66 940.55 L1806.62 940.6 L1809.58 940.65 L1812.54 940.69 L1815.5 940.74 L1818.46 940.78 L1821.42 940.82 L1824.39 940.85 L1827.35 940.89 L1830.31 940.92 L1833.27 940.95 L1836.23 940.98 L1839.19 941.01 L1842.15 941.04 L1845.11 941.06 L1848.07 941.09 L1851.04 941.11 L1854 941.13 L1856.96 941.15 L1859.92 941.17 L1862.88 941.19 L1865.84 941.21 L1868.8 941.23 L1871.76 941.24 L1874.72 941.26 L1877.68 941.27 L1880.65 941.29 L1883.61 941.3 L1886.57 941.31 L1889.53 941.32 L1892.49 941.33 L1895.45 941.34 L1898.41 941.35 L1901.37 941.36" fill="none" stroke="#ee7d31" stroke-width="2.8" stroke-linejoin="round"/>
<circle cx="1507.55" cy="705.38" r="6.35" fill="#0c69ab"/>
<circle cx="1528.28" cy="740.88" r="6.35" fill="#0c69ab"/>
<circle cx="1549.01" cy="815.93" r="6.35" fill="#0c69ab"/>
<circle cx="1569.74" cy="852.11" r="6.35" fill="#0c69ab"/>
<circle cx="1590.46" cy="872.05" r="6.35" fill="#0c69ab"/>
<circle cx="1611.19" cy="886.93" r="6.35" fill="#0c69ab"/>
<circle cx="1631.92" cy="883.55" r="6.35" fill="#0c69ab"/>
<circle cx="1652.65" cy="907.89" r="6.35" fill="#0c69ab"/>
<circle cx="1673.37" cy="909.24" r="6.35" fill="#0c69ab"/>
<circle cx="1694.1" cy="916.34" r="6.35" fill="#0c69ab"/>
<circle cx="1797.74" cy="937.98" r="6.35" fill="#0c69ab"/>
<circle cx="1901.37" cy="941.36" r="6.35" fill="#0c69ab"/>
<circle cx="1507.55" cy="752.71" r="6.35" fill="#ee7d31"/>
<circle cx="1528.28" cy="799.7" r="6.35" fill="#ee7d31"/>
<circle cx="1549.01" cy="862.93" r="6.35" fill="#ee7d31"/>
<circle cx="1569.74" cy="887.27" r="6.35" fill="#ee7d31"/>
<circle cx="1590.46" cy="892.34" r="6.35" fill="#ee7d31"/>
<circle cx="1611.19" cy="905.86" r="6.35" fill="#ee7d31"/>
<circle cx="1631.92" cy="908.91" r="6.35" fill="#ee7d31"/>
<circle cx="1652.65" cy="928.52" r="6.35" fill="#ee7d31"/>
<circle cx="1673.37" cy="928.52" r="6.35" fill="#ee7d31"/>
<circle cx="1694.1" cy="941.36" r="6.35" fill="#ee7d31"/>
<circle cx="1797.74" cy="941.02" r="6.35" fill="#ee7d31"/>
<circle cx="1901.37" cy="943.05" r="6.35" fill="#ee7d31"/>
<rect x="1466.5" y="599.4" width="456" height="362.9" class="ax"/>
<line x1="1451.7" y1="618.1" x2="1466.5" y2="618.1" class="ax"/>
<text x="1436.3" y="630.3" class="tk" text-anchor="end">1.0</text>
<line x1="1451.7" y1="701.3" x2="1466.5" y2="701.3" class="ax"/>
<text x="1436.3" y="713.5" class="tk" text-anchor="end">0.8</text>
<line x1="1451.7" y1="784.5" x2="1466.5" y2="784.5" class="ax"/>
<text x="1436.3" y="796.7" class="tk" text-anchor="end">0.6</text>
<line x1="1451.7" y1="868" x2="1466.5" y2="868" class="ax"/>
<text x="1436.3" y="880.2" class="tk" text-anchor="end">0.4</text>
<line x1="1451.7" y1="951.5" x2="1466.5" y2="951.5" class="ax"/>
<text x="1436.3" y="963.7" class="tk" text-anchor="end">0.2</text>
<line x1="1486.83" y1="962.3" x2="1486.83" y2="977.1" class="ax"/>
<text x="1486.33" y="1014.9" class="tk" text-anchor="middle">0</text>
<line x1="1694.1" y1="962.3" x2="1694.1" y2="977.1" class="ax"/>
<text x="1693.6" y="1014.9" class="tk" text-anchor="middle">10</text>
<line x1="1901.37" y1="962.3" x2="1901.37" y2="977.1" class="ax"/>
<text x="1900.87" y="1014.9" class="tk" text-anchor="middle">20</text>
<text x="1694.5" y="1062.9" class="tk" text-anchor="middle" textLength="361" lengthAdjust="spacing">Number of Clifford gates</text>
<text x="1367" y="780.85" class="tk" text-anchor="middle" transform="rotate(-90 1367 780.85)" textLength="257.2" lengthAdjust="spacing">Recovery chance</text>
<line x1="1557.2" y1="642.8" x2="1599.8" y2="642.8" stroke="#0c69ab" stroke-width="2.8"/>
<text x="1619.6" y="648.5" class="lg dj" font-style="italic">F</text>
<text x="1637.6" y="637.3" class="lg dj" style="font-size:17.8px">N<tspan style="font-size:12.4px" dy="2.7">3</tspan><tspan dy="-2.7" dx="1">N</tspan><tspan style="font-size:12.4px" dy="2.7">4</tspan></text>
<text x="1635.2" y="655.3" class="lg dj" style="font-size:17.9px">C, ref</text>
<text x="1688.9" y="648.5" class="lg dj">=</text>
<text x="1716" y="648.5" class="lg" style="font-size:26.2px">80.53</text>
<text x="1789.9" y="648.5" class="lg dj">±</text>
<text x="1819.9" y="648.5" class="lg" style="font-size:26.2px">0.88%</text>
<line x1="1557.2" y1="698.1" x2="1599.8" y2="698.1" stroke="#ee7d31" stroke-width="2.8"/>
<text x="1619.6" y="703.8" class="lg dj" font-style="italic">F</text>
<text x="1637.6" y="692.6" class="lg dj" style="font-size:17.8px">N<tspan style="font-size:12.4px" dy="2.7">3</tspan><tspan dy="-2.7" dx="1">N</tspan><tspan style="font-size:12.4px" dy="2.7">4</tspan></text>
<text x="1635.2" y="710.6" class="lg dj" style="font-size:17.9px">CZ</text>
<text x="1688.9" y="703.8" class="lg dj">=</text>
<text x="1716" y="703.8" class="lg" style="font-size:26.2px">95.11</text>
<text x="1789.9" y="703.8" class="lg dj">±</text>
<text x="1819.9" y="703.8" class="lg" style="font-size:26.2px">1.41%</text>
</g>
<g id="p4">
<path d="M164.68 1140.17 L167.64 1149.02 L170.6 1157.64 L173.56 1166.02 L176.52 1174.17 L179.49 1182.1 L182.45 1189.82 L185.41 1197.33 L188.37 1204.64 L191.33 1211.74 L194.29 1218.66 L197.25 1225.39 L200.22 1231.94 L203.18 1238.31 L206.14 1244.5 L209.1 1250.53 L212.06 1256.4 L215.02 1262.11 L217.98 1267.66 L220.95 1273.06 L223.91 1278.32 L226.87 1283.44 L229.83 1288.41 L232.79 1293.25 L235.75 1297.97 L238.71 1302.55 L241.67 1307.01 L244.64 1311.35 L247.6 1315.57 L250.56 1319.68 L253.52 1323.67 L256.48 1327.56 L259.44 1331.34 L262.4 1335.02 L265.37 1338.6 L268.33 1342.09 L271.29 1345.48 L274.25 1348.77 L277.21 1351.98 L280.17 1355.11 L283.13 1358.14 L286.1 1361.1 L289.06 1363.97 L292.02 1366.77 L294.98 1369.49 L297.94 1372.14 L300.9 1374.72 L303.86 1377.22 L306.82 1379.66 L309.79 1382.04 L312.75 1384.35 L315.71 1386.59 L318.67 1388.78 L321.63 1390.9 L324.59 1392.97 L327.55 1394.99 L330.52 1396.94 L333.48 1398.85 L336.44 1400.7 L339.4 1402.51 L342.36 1404.26 L345.32 1405.97 L348.28 1407.63 L351.25 1409.25 L354.21 1410.82 L357.17 1412.35 L360.13 1413.84 L363.09 1415.29 L366.05 1416.7 L369.01 1418.07 L371.97 1419.4 L374.94 1420.7 L377.9 1421.96 L380.86 1423.19 L383.82 1424.39 L386.78 1425.55 L389.74 1426.68 L392.7 1427.78 L395.67 1428.85 L398.63 1429.89 L401.59 1430.91 L404.55 1431.89 L407.51 1432.85 L410.47 1433.79 L413.43 1434.7 L416.4 1435.58 L419.36 1436.44 L422.32 1437.28 L425.28 1438.09 L428.24 1438.88 L431.2 1439.66 L434.16 1440.41 L437.12 1441.13 L440.09 1441.84 L443.05 1442.54 L446.01 1443.21 L448.97 1443.86 L451.93 1444.5 L454.89 1445.12 L457.85 1445.72 L460.82 1446.3 L463.78 1446.87 L466.74 1447.43 L469.7 1447.97 L472.66 1448.49 L475.62 1449 L478.58 1449.5 L481.55 1449.98 L484.51 1450.45 L487.47 1450.91 L490.43 1451.36 L493.39 1451.79 L496.35 1452.21 L499.31 1452.62 L502.27 1453.02 L505.24 1453.41 L508.2 1453.79 L511.16 1454.16 L514.12 1454.51 L517.08 1454.86 L520.04 1455.2 L523 1455.53 L525.97 1455.85 L528.93 1456.16 L531.89 1456.46 L534.85 1456.76 L537.81 1457.05 L540.77 1457.33 L543.73 1457.6 L546.7 1457.86 L549.66 1458.12 L552.62 1458.37 L555.58 1458.61 L558.54 1458.85 L561.5 1459.08 L564.46 1459.3 L567.42 1459.52 L570.39 1459.74 L573.35 1459.94 L576.31 1460.14 L579.27 1460.34" fill="none" stroke="#0c69ab" stroke-width="2.8" stroke-linejoin="round"/>
<path d="M164.68 1155.38 L167.64 1164.46 L170.6 1173.29 L173.56 1181.86 L176.52 1190.19 L179.49 1198.28 L182.45 1206.14 L185.41 1213.78 L188.37 1221.21 L191.33 1228.42 L194.29 1235.42 L197.25 1242.23 L200.22 1248.85 L203.18 1255.27 L206.14 1261.52 L209.1 1267.58 L212.06 1273.48 L215.02 1279.21 L217.98 1284.77 L220.95 1290.18 L223.91 1295.43 L226.87 1300.53 L229.83 1305.49 L232.79 1310.31 L235.75 1314.99 L238.71 1319.54 L241.67 1323.96 L244.64 1328.25 L247.6 1332.42 L250.56 1336.48 L253.52 1340.41 L256.48 1344.24 L259.44 1347.96 L262.4 1351.57 L265.37 1355.08 L268.33 1358.49 L271.29 1361.8 L274.25 1365.02 L277.21 1368.15 L280.17 1371.18 L283.13 1374.14 L286.1 1377 L289.06 1379.79 L292.02 1382.5 L294.98 1385.13 L297.94 1387.69 L300.9 1390.17 L303.86 1392.58 L306.82 1394.93 L309.79 1397.2 L312.75 1399.42 L315.71 1401.57 L318.67 1403.66 L321.63 1405.69 L324.59 1407.66 L327.55 1409.58 L330.52 1411.44 L333.48 1413.25 L336.44 1415 L339.4 1416.71 L342.36 1418.37 L345.32 1419.98 L348.28 1421.55 L351.25 1423.07 L354.21 1424.55 L357.17 1425.99 L360.13 1427.38 L363.09 1428.74 L366.05 1430.06 L369.01 1431.34 L371.97 1432.58 L374.94 1433.79 L377.9 1434.96 L380.86 1436.1 L383.82 1437.21 L386.78 1438.29 L389.74 1439.33 L392.7 1440.35 L395.67 1441.34 L398.63 1442.3 L401.59 1443.23 L404.55 1444.14 L407.51 1445.02 L410.47 1445.87 L413.43 1446.7 L416.4 1447.51 L419.36 1448.29 L422.32 1449.06 L425.28 1449.8 L428.24 1450.52 L431.2 1451.22 L434.16 1451.89 L437.12 1452.55 L440.09 1453.2 L443.05 1453.82 L446.01 1454.42 L448.97 1455.01 L451.93 1455.58 L454.89 1456.14 L457.85 1456.68 L460.82 1457.2 L463.78 1457.71 L466.74 1458.21 L469.7 1458.69 L472.66 1459.15 L475.62 1459.61 L478.58 1460.05 L481.55 1460.48 L484.51 1460.89 L487.47 1461.3 L490.43 1461.69 L493.39 1462.07 L496.35 1462.44 L499.31 1462.8 L502.27 1463.15 L505.24 1463.49 L508.2 1463.82 L511.16 1464.14 L514.12 1464.46 L517.08 1464.76 L520.04 1465.05 L523 1465.34 L525.97 1465.62 L528.93 1465.89 L531.89 1466.15 L534.85 1466.41 L537.81 1466.65 L540.77 1466.89 L543.73 1467.13 L546.7 1467.36 L549.66 1467.58 L552.62 1467.79 L555.58 1468 L558.54 1468.2 L561.5 1468.4 L564.46 1468.59 L567.42 1468.78 L570.39 1468.96 L573.35 1469.13 L576.31 1469.3 L579.27 1469.47" fill="none" stroke="#ee7d31" stroke-width="2.8" stroke-linejoin="round"/>
<circle cx="176.52" cy="1183.44" r="6.35" fill="#0c69ab"/>
<circle cx="188.37" cy="1204.07" r="6.35" fill="#0c69ab"/>
<circle cx="212.06" cy="1242.95" r="6.35" fill="#0c69ab"/>
<circle cx="235.75" cy="1291.97" r="6.35" fill="#0c69ab"/>
<circle cx="259.44" cy="1336.26" r="6.35" fill="#0c69ab"/>
<circle cx="283.13" cy="1375.48" r="6.35" fill="#0c69ab"/>
<circle cx="342.36" cy="1394.41" r="6.35" fill="#0c69ab"/>
<circle cx="401.59" cy="1430.92" r="6.35" fill="#0c69ab"/>
<circle cx="460.82" cy="1447.15" r="6.35" fill="#0c69ab"/>
<circle cx="520.04" cy="1452.9" r="6.35" fill="#0c69ab"/>
<circle cx="579.27" cy="1460.34" r="6.35" fill="#0c69ab"/>
<circle cx="176.52" cy="1191.56" r="6.35" fill="#ee7d31"/>
<circle cx="188.37" cy="1225.03" r="6.35" fill="#ee7d31"/>
<circle cx="212.06" cy="1265.94" r="6.35" fill="#ee7d31"/>
<circle cx="235.75" cy="1312.93" r="6.35" fill="#ee7d31"/>
<circle cx="259.44" cy="1349.78" r="6.35" fill="#ee7d31"/>
<circle cx="283.13" cy="1383.25" r="6.35" fill="#ee7d31"/>
<circle cx="342.36" cy="1408.61" r="6.35" fill="#ee7d31"/>
<circle cx="401.59" cy="1445.8" r="6.35" fill="#ee7d31"/>
<circle cx="460.82" cy="1460.68" r="6.35" fill="#ee7d31"/>
<circle cx="520.04" cy="1466.76" r="6.35" fill="#ee7d31"/>
<circle cx="579.27" cy="1467.78" r="6.35" fill="#ee7d31"/>
<rect x="144.35" y="1125.2" width="456.05" height="362.8" class="ax"/>
<line x1="129.55" y1="1134.1" x2="144.35" y2="1134.1" class="ax"/>
<text x="114.15" y="1146.3" class="tk" text-anchor="end">1.0</text>
<line x1="129.55" y1="1224.7" x2="144.35" y2="1224.7" class="ax"/>
<text x="114.15" y="1236.9" class="tk" text-anchor="end">0.8</text>
<line x1="129.55" y1="1315.6" x2="144.35" y2="1315.6" class="ax"/>
<text x="114.15" y="1327.8" class="tk" text-anchor="end">0.6</text>
<line x1="129.55" y1="1406.2" x2="144.35" y2="1406.2" class="ax"/>
<text x="114.15" y="1418.4" class="tk" text-anchor="end">0.4</text>
<line x1="164.68" y1="1488" x2="164.68" y2="1502.8" class="ax"/>
<text x="164.18" y="1540.6" class="tk" text-anchor="middle">0</text>
<line x1="283.13" y1="1488" x2="283.13" y2="1502.8" class="ax"/>
<text x="282.63" y="1540.6" class="tk" text-anchor="middle">10</text>
<line x1="401.59" y1="1488" x2="401.59" y2="1502.8" class="ax"/>
<text x="401.09" y="1540.6" class="tk" text-anchor="middle">20</text>
<line x1="520.04" y1="1488" x2="520.04" y2="1502.8" class="ax"/>
<text x="519.54" y="1540.6" class="tk" text-anchor="middle">30</text>
<text x="372.38" y="1588.6" class="tk" text-anchor="middle" textLength="361" lengthAdjust="spacing">Number of Clifford gates</text>
<text x="44.85" y="1306.6" class="tk" text-anchor="middle" transform="rotate(-90 44.85 1306.6)" textLength="257.2" lengthAdjust="spacing">Recovery chance</text>
<line x1="234.2" y1="1168.2" x2="276.8" y2="1168.2" stroke="#0c69ab" stroke-width="2.8"/>
<text x="296.6" y="1173.9" class="lg dj" font-style="italic">F</text>
<text x="314.6" y="1162.7" class="lg dj" style="font-size:17.8px">N<tspan style="font-size:12.4px" dy="2.7">1</tspan><tspan dy="-2.7" dx="1">N</tspan><tspan style="font-size:12.4px" dy="2.7">3</tspan></text>
<text x="312.2" y="1180.7" class="lg dj" style="font-size:17.9px">C, ref</text>
<text x="365.9" y="1173.9" class="lg dj">=</text>
<text x="393" y="1173.9" class="lg" style="font-size:26.2px">92.25</text>
<text x="466.9" y="1173.9" class="lg dj">±</text>
<text x="496.9" y="1173.9" class="lg" style="font-size:26.2px">0.78%</text>
<line x1="234.2" y1="1223.5" x2="276.8" y2="1223.5" stroke="#ee7d31" stroke-width="2.8"/>
<text x="296.6" y="1229.2" class="lg dj" font-style="italic">F</text>
<text x="314.6" y="1218" class="lg dj" style="font-size:17.8px">N<tspan style="font-size:12.4px" dy="2.7">1</tspan><tspan dy="-2.7" dx="1">N</tspan><tspan style="font-size:12.4px" dy="2.7">3</tspan></text>
<text x="312.2" y="1236" class="lg dj" style="font-size:17.9px">CZ</text>
<text x="365.9" y="1229.2" class="lg dj">=</text>
<text x="393" y="1229.2" class="lg" style="font-size:26.2px">99.62</text>
<text x="466.9" y="1229.2" class="lg dj">±</text>
<text x="496.9" y="1229.2" class="lg" style="font-size:26.2px">1.05%</text>
</g>
<g id="p5">
<path d="M825.78 1140.17 L828.75 1150.19 L831.71 1159.91 L834.67 1169.33 L837.63 1178.47 L840.59 1187.33 L843.56 1195.92 L846.52 1204.25 L849.48 1212.33 L852.44 1220.16 L855.4 1227.75 L858.37 1235.12 L861.33 1242.26 L864.29 1249.18 L867.25 1255.9 L870.21 1262.41 L873.18 1268.72 L876.14 1274.84 L879.1 1280.78 L882.06 1286.54 L885.02 1292.12 L887.99 1297.53 L890.95 1302.78 L893.91 1307.87 L896.87 1312.8 L899.83 1317.58 L902.8 1322.22 L905.76 1326.72 L908.72 1331.08 L911.68 1335.31 L914.64 1339.42 L917.61 1343.39 L920.57 1347.25 L923.53 1350.99 L926.49 1354.61 L929.45 1358.13 L932.42 1361.54 L935.38 1364.84 L938.34 1368.05 L941.3 1371.16 L944.26 1374.17 L947.23 1377.1 L950.19 1379.93 L953.15 1382.68 L956.11 1385.34 L959.07 1387.93 L962.04 1390.43 L965 1392.86 L967.96 1395.22 L970.92 1397.5 L973.88 1399.72 L976.85 1401.86 L979.81 1403.95 L982.77 1405.96 L985.73 1407.92 L988.69 1409.82 L991.66 1411.66 L994.62 1413.45 L997.58 1415.18 L1000.54 1416.86 L1003.5 1418.49 L1006.47 1420.06 L1009.43 1421.59 L1012.39 1423.08 L1015.35 1424.52 L1018.31 1425.91 L1021.28 1427.27 L1024.24 1428.58 L1027.2 1429.85 L1030.16 1431.08 L1033.12 1432.28 L1036.09 1433.44 L1039.05 1434.56 L1042.01 1435.65 L1044.97 1436.71 L1047.94 1437.74 L1050.9 1438.73 L1053.86 1439.7 L1056.82 1440.63 L1059.78 1441.54 L1062.75 1442.42 L1065.71 1443.27 L1068.67 1444.09 L1071.63 1444.9 L1074.59 1445.67 L1077.56 1446.43 L1080.52 1447.16 L1083.48 1447.87 L1086.44 1448.55 L1089.4 1449.22 L1092.37 1449.86 L1095.33 1450.49 L1098.29 1451.1 L1101.25 1451.69 L1104.21 1452.26 L1107.18 1452.81 L1110.14 1453.35 L1113.1 1453.87 L1116.06 1454.37 L1119.02 1454.86 L1121.99 1455.34 L1124.95 1455.8 L1127.91 1456.25 L1130.87 1456.68 L1133.83 1457.1 L1136.8 1457.5 L1139.76 1457.9 L1142.72 1458.28 L1145.68 1458.65 L1148.64 1459.01 L1151.61 1459.36 L1154.57 1459.7 L1157.53 1460.03 L1160.49 1460.35 L1163.45 1460.65 L1166.42 1460.95 L1169.38 1461.24 L1172.34 1461.52 L1175.3 1461.8 L1178.26 1462.06 L1181.23 1462.32 L1184.19 1462.57 L1187.15 1462.81 L1190.11 1463.04 L1193.07 1463.27 L1196.04 1463.49 L1199 1463.7 L1201.96 1463.91 L1204.92 1464.11 L1207.88 1464.3 L1210.85 1464.49 L1213.81 1464.67 L1216.77 1464.85 L1219.73 1465.02 L1222.69 1465.19 L1225.66 1465.35 L1228.62 1465.51 L1231.58 1465.66 L1234.54 1465.8 L1237.5 1465.95 L1240.47 1466.09" fill="none" stroke="#0c69ab" stroke-width="2.8" stroke-linejoin="round"/>
<path d="M825.78 1160.79 L828.75 1172.36 L831.71 1183.49 L834.67 1194.21 L837.63 1204.52 L840.59 1214.45 L843.56 1224 L846.52 1233.2 L849.48 1242.05 L852.44 1250.57 L855.4 1258.76 L858.37 1266.66 L861.33 1274.25 L864.29 1281.56 L867.25 1288.6 L870.21 1295.38 L873.18 1301.9 L876.14 1308.17 L879.1 1314.21 L882.06 1320.02 L885.02 1325.62 L887.99 1331 L890.95 1336.19 L893.91 1341.18 L896.87 1345.98 L899.83 1350.6 L902.8 1355.05 L905.76 1359.33 L908.72 1363.45 L911.68 1367.42 L914.64 1371.24 L917.61 1374.91 L920.57 1378.45 L923.53 1381.85 L926.49 1385.13 L929.45 1388.28 L932.42 1391.32 L935.38 1394.24 L938.34 1397.05 L941.3 1399.76 L944.26 1402.37 L947.23 1404.87 L950.19 1407.29 L953.15 1409.61 L956.11 1411.85 L959.07 1414 L962.04 1416.07 L965 1418.06 L967.96 1419.98 L970.92 1421.83 L973.88 1423.61 L976.85 1425.32 L979.81 1426.97 L982.77 1428.55 L985.73 1430.08 L988.69 1431.54 L991.66 1432.96 L994.62 1434.32 L997.58 1435.63 L1000.54 1436.89 L1003.5 1438.1 L1006.47 1439.27 L1009.43 1440.39 L1012.39 1441.47 L1015.35 1442.52 L1018.31 1443.52 L1021.28 1444.48 L1024.24 1445.41 L1027.2 1446.3 L1030.16 1447.16 L1033.12 1447.99 L1036.09 1448.79 L1039.05 1449.56 L1042.01 1450.29 L1044.97 1451 L1047.94 1451.69 L1050.9 1452.35 L1053.86 1452.98 L1056.82 1453.59 L1059.78 1454.18 L1062.75 1454.74 L1065.71 1455.28 L1068.67 1455.81 L1071.63 1456.31 L1074.59 1456.8 L1077.56 1457.26 L1080.52 1457.71 L1083.48 1458.14 L1086.44 1458.56 L1089.4 1458.96 L1092.37 1459.35 L1095.33 1459.72 L1098.29 1460.07 L1101.25 1460.42 L1104.21 1460.75 L1107.18 1461.07 L1110.14 1461.37 L1113.1 1461.67 L1116.06 1461.95 L1119.02 1462.23 L1121.99 1462.49 L1124.95 1462.74 L1127.91 1462.99 L1130.87 1463.22 L1133.83 1463.45 L1136.8 1463.66 L1139.76 1463.87 L1142.72 1464.07 L1145.68 1464.27 L1148.64 1464.45 L1151.61 1464.63 L1154.57 1464.81 L1157.53 1464.97 L1160.49 1465.13 L1163.45 1465.29 L1166.42 1465.43 L1169.38 1465.58 L1172.34 1465.71 L1175.3 1465.85 L1178.26 1465.97 L1181.23 1466.1 L1184.19 1466.21 L1187.15 1466.33 L1190.11 1466.44 L1193.07 1466.54 L1196.04 1466.64 L1199 1466.74 L1201.96 1466.83 L1204.92 1466.92 L1207.88 1467.01 L1210.85 1467.1 L1213.81 1467.18 L1216.77 1467.25 L1219.73 1467.33 L1222.69 1467.4 L1225.66 1467.47 L1228.62 1467.53 L1231.58 1467.6 L1234.54 1467.66 L1237.5 1467.72 L1240.47 1467.78" fill="none" stroke="#ee7d31" stroke-width="2.8" stroke-linejoin="round"/>
<circle cx="867.25" cy="1258.84" r="6.35" fill="#0c69ab"/>
<circle cx="887.99" cy="1302.45" r="6.35" fill="#0c69ab"/>
<circle cx="908.72" cy="1315.64" r="6.35" fill="#0c69ab"/>
<circle cx="929.45" cy="1365" r="6.35" fill="#0c69ab"/>
<circle cx="950.19" cy="1376.49" r="6.35" fill="#0c69ab"/>
<circle cx="970.92" cy="1393.74" r="6.35" fill="#0c69ab"/>
<circle cx="991.66" cy="1417.74" r="6.35" fill="#0c69ab"/>
<circle cx="1012.39" cy="1422.81" r="6.35" fill="#0c69ab"/>
<circle cx="1033.12" cy="1439.38" r="6.35" fill="#0c69ab"/>
<circle cx="1136.8" cy="1454.59" r="6.35" fill="#0c69ab"/>
<circle cx="1240.47" cy="1465.07" r="6.35" fill="#0c69ab"/>
<circle cx="867.25" cy="1271.69" r="6.35" fill="#ee7d31"/>
<circle cx="887.99" cy="1362.29" r="6.35" fill="#ee7d31"/>
<circle cx="908.72" cy="1366.01" r="6.35" fill="#ee7d31"/>
<circle cx="929.45" cy="1380.21" r="6.35" fill="#ee7d31"/>
<circle cx="950.19" cy="1396.1" r="6.35" fill="#ee7d31"/>
<circle cx="970.92" cy="1408.27" r="6.35" fill="#ee7d31"/>
<circle cx="991.66" cy="1437.01" r="6.35" fill="#ee7d31"/>
<circle cx="1012.39" cy="1439.38" r="6.35" fill="#ee7d31"/>
<circle cx="1033.12" cy="1462.71" r="6.35" fill="#ee7d31"/>
<circle cx="1136.8" cy="1467.78" r="6.35" fill="#ee7d31"/>
<circle cx="1240.47" cy="1465.07" r="6.35" fill="#ee7d31"/>
<rect x="805.45" y="1125.2" width="456.15" height="362.8" class="ax"/>
<line x1="790.65" y1="1184.8" x2="805.45" y2="1184.8" class="ax"/>
<text x="775.25" y="1197" class="tk" text-anchor="end">0.8</text>
<line x1="790.65" y1="1284.2" x2="805.45" y2="1284.2" class="ax"/>
<text x="775.25" y="1296.4" class="tk" text-anchor="end">0.6</text>
<line x1="790.65" y1="1383.6" x2="805.45" y2="1383.6" class="ax"/>
<text x="775.25" y="1395.8" class="tk" text-anchor="end">0.4</text>
<line x1="790.65" y1="1483" x2="805.45" y2="1483" class="ax"/>
<text x="775.25" y="1495.2" class="tk" text-anchor="end">0.2</text>
<line x1="825.78" y1="1488" x2="825.78" y2="1502.8" class="ax"/>
<text x="825.28" y="1540.6" class="tk" text-anchor="middle">0</text>
<line x1="1033.12" y1="1488" x2="1033.12" y2="1502.8" class="ax"/>
<text x="1032.62" y="1540.6" class="tk" text-anchor="middle">10</text>
<line x1="1240.47" y1="1488" x2="1240.47" y2="1502.8" class="ax"/>
<text x="1239.97" y="1540.6" class="tk" text-anchor="middle">20</text>
<text x="1033.53" y="1588.6" class="tk" text-anchor="middle" textLength="361" lengthAdjust="spacing">Number of Clifford gates</text>
<text x="705.95" y="1306.6" class="tk" text-anchor="middle" transform="rotate(-90 705.95 1306.6)" textLength="257.2" lengthAdjust="spacing">Recovery chance</text>
<line x1="900.2" y1="1168.2" x2="942.8" y2="1168.2" stroke="#0c69ab" stroke-width="2.8"/>
<text x="962.6" y="1173.9" class="lg dj" font-style="italic">F</text>
<text x="980.6" y="1162.7" class="lg dj" style="font-size:17.8px">N<tspan style="font-size:12.4px" dy="2.7">1</tspan><tspan dy="-2.7" dx="1">N</tspan><tspan style="font-size:12.4px" dy="2.7">4</tspan></text>
<text x="978.2" y="1180.7" class="lg dj" style="font-size:17.9px">C, ref</text>
<text x="1031.9" y="1173.9" class="lg dj">=</text>
<text x="1059" y="1173.9" class="lg" style="font-size:26.2px">85.57</text>
<text x="1132.9" y="1173.9" class="lg dj">±</text>
<text x="1162.9" y="1173.9" class="lg" style="font-size:26.2px">0.56%</text>
<line x1="900.2" y1="1223.5" x2="942.8" y2="1223.5" stroke="#ee7d31" stroke-width="2.8"/>
<text x="962.6" y="1229.2" class="lg dj" font-style="italic">F</text>
<text x="980.6" y="1218" class="lg dj" style="font-size:17.8px">N<tspan style="font-size:12.4px" dy="2.7">1</tspan><tspan dy="-2.7" dx="1">N</tspan><tspan style="font-size:12.4px" dy="2.7">4</tspan></text>
<text x="978.2" y="1236" class="lg dj" style="font-size:17.9px">CZ</text>
<text x="1031.9" y="1229.2" class="lg dj">=</text>
<text x="1059" y="1229.2" class="lg" style="font-size:26.2px">96.25</text>
<text x="1132.9" y="1229.2" class="lg dj">±</text>
<text x="1162.9" y="1229.2" class="lg" style="font-size:26.2px">0.87%</text>
</g>
<g id="p6">
<path d="M1486.83 1140.51 L1489.79 1150.64 L1492.75 1160.44 L1495.71 1169.94 L1498.67 1179.12 L1501.63 1188.02 L1504.59 1196.62 L1507.55 1204.96 L1510.52 1213.02 L1513.48 1220.83 L1516.44 1228.38 L1519.4 1235.7 L1522.36 1242.78 L1525.32 1249.63 L1528.28 1256.26 L1531.24 1262.68 L1534.2 1268.9 L1537.16 1274.91 L1540.13 1280.73 L1543.09 1286.37 L1546.05 1291.82 L1549.01 1297.1 L1551.97 1302.22 L1554.93 1307.16 L1557.89 1311.95 L1560.85 1316.59 L1563.81 1321.07 L1566.78 1325.42 L1569.74 1329.62 L1572.7 1333.69 L1575.66 1337.63 L1578.62 1341.44 L1581.58 1345.13 L1584.54 1348.7 L1587.5 1352.16 L1590.46 1355.5 L1593.42 1358.74 L1596.39 1361.88 L1599.35 1364.91 L1602.31 1367.85 L1605.27 1370.69 L1608.23 1373.44 L1611.19 1376.11 L1614.15 1378.69 L1617.11 1381.18 L1620.07 1383.6 L1623.04 1385.93 L1626 1388.2 L1628.96 1390.39 L1631.92 1392.51 L1634.88 1394.56 L1637.84 1396.55 L1640.8 1398.47 L1643.76 1400.33 L1646.72 1402.14 L1649.68 1403.88 L1652.65 1405.57 L1655.61 1407.2 L1658.57 1408.78 L1661.53 1410.31 L1664.49 1411.8 L1667.45 1413.23 L1670.41 1414.62 L1673.37 1415.96 L1676.33 1417.26 L1679.29 1418.52 L1682.26 1419.74 L1685.22 1420.92 L1688.18 1422.06 L1691.14 1423.17 L1694.1 1424.24 L1697.06 1425.27 L1700.02 1426.28 L1702.98 1427.25 L1705.94 1428.18 L1708.91 1429.09 L1711.87 1429.97 L1714.83 1430.83 L1717.79 1431.65 L1720.75 1432.45 L1723.71 1433.22 L1726.67 1433.97 L1729.63 1434.69 L1732.59 1435.39 L1735.55 1436.07 L1738.52 1436.73 L1741.48 1437.36 L1744.44 1437.98 L1747.4 1438.57 L1750.36 1439.15 L1753.32 1439.7 L1756.28 1440.24 L1759.24 1440.77 L1762.2 1441.27 L1765.16 1441.76 L1768.13 1442.24 L1771.09 1442.69 L1774.05 1443.14 L1777.01 1443.57 L1779.97 1443.98 L1782.93 1444.39 L1785.89 1444.78 L1788.85 1445.15 L1791.81 1445.52 L1794.78 1445.87 L1797.74 1446.21 L1800.7 1446.54 L1803.66 1446.86 L1806.62 1447.17 L1809.58 1447.47 L1812.54 1447.77 L1815.5 1448.05 L1818.46 1448.32 L1821.42 1448.58 L1824.39 1448.84 L1827.35 1449.08 L1830.31 1449.32 L1833.27 1449.56 L1836.23 1449.78 L1839.19 1450 L1842.15 1450.21 L1845.11 1450.41 L1848.07 1450.61 L1851.04 1450.8 L1854 1450.98 L1856.96 1451.16 L1859.92 1451.33 L1862.88 1451.5 L1865.84 1451.66 L1868.8 1451.82 L1871.76 1451.97 L1874.72 1452.11 L1877.68 1452.26 L1880.65 1452.39 L1883.61 1452.53 L1886.57 1452.65 L1889.53 1452.78 L1892.49 1452.9 L1895.45 1453.02 L1898.41 1453.13 L1901.37 1453.24" fill="none" stroke="#0c69ab" stroke-width="2.8" stroke-linejoin="round"/>
<path d="M1486.83 1163.5 L1489.79 1175.12 L1492.75 1186.3 L1495.71 1197.05 L1498.67 1207.4 L1501.63 1217.35 L1504.59 1226.93 L1507.55 1236.14 L1510.52 1245 L1513.48 1253.52 L1516.44 1261.73 L1519.4 1269.62 L1522.36 1277.21 L1525.32 1284.51 L1528.28 1291.53 L1531.24 1298.29 L1534.2 1304.79 L1537.16 1311.05 L1540.13 1317.06 L1543.09 1322.85 L1546.05 1328.42 L1549.01 1333.78 L1551.97 1338.93 L1554.93 1343.89 L1557.89 1348.66 L1560.85 1353.25 L1563.81 1357.66 L1566.78 1361.91 L1569.74 1365.99 L1572.7 1369.92 L1575.66 1373.7 L1578.62 1377.34 L1581.58 1380.84 L1584.54 1384.2 L1587.5 1387.44 L1590.46 1390.56 L1593.42 1393.55 L1596.39 1396.44 L1599.35 1399.21 L1602.31 1401.88 L1605.27 1404.45 L1608.23 1406.92 L1611.19 1409.29 L1614.15 1411.58 L1617.11 1413.78 L1620.07 1415.89 L1623.04 1417.93 L1626 1419.88 L1628.96 1421.77 L1631.92 1423.58 L1634.88 1425.32 L1637.84 1427 L1640.8 1428.61 L1643.76 1430.16 L1646.72 1431.66 L1649.68 1433.09 L1652.65 1434.47 L1655.61 1435.8 L1658.57 1437.08 L1661.53 1438.31 L1664.49 1439.49 L1667.45 1440.63 L1670.41 1441.73 L1673.37 1442.78 L1676.33 1443.79 L1679.29 1444.77 L1682.26 1445.71 L1685.22 1446.61 L1688.18 1447.48 L1691.14 1448.31 L1694.1 1449.12 L1697.06 1449.89 L1700.02 1450.63 L1702.98 1451.35 L1705.94 1452.04 L1708.91 1452.7 L1711.87 1453.34 L1714.83 1453.95 L1717.79 1454.54 L1720.75 1455.1 L1723.71 1455.65 L1726.67 1456.18 L1729.63 1456.68 L1732.59 1457.17 L1735.55 1457.63 L1738.52 1458.08 L1741.48 1458.51 L1744.44 1458.93 L1747.4 1459.33 L1750.36 1459.72 L1753.32 1460.09 L1756.28 1460.44 L1759.24 1460.79 L1762.2 1461.12 L1765.16 1461.43 L1768.13 1461.74 L1771.09 1462.03 L1774.05 1462.31 L1777.01 1462.59 L1779.97 1462.85 L1782.93 1463.1 L1785.89 1463.34 L1788.85 1463.57 L1791.81 1463.8 L1794.78 1464.01 L1797.74 1464.22 L1800.7 1464.42 L1803.66 1464.61 L1806.62 1464.8 L1809.58 1464.97 L1812.54 1465.14 L1815.5 1465.31 L1818.46 1465.47 L1821.42 1465.62 L1824.39 1465.76 L1827.35 1465.9 L1830.31 1466.04 L1833.27 1466.17 L1836.23 1466.3 L1839.19 1466.42 L1842.15 1466.53 L1845.11 1466.64 L1848.07 1466.75 L1851.04 1466.85 L1854 1466.95 L1856.96 1467.05 L1859.92 1467.14 L1862.88 1467.23 L1865.84 1467.31 L1868.8 1467.4 L1871.76 1467.47 L1874.72 1467.55 L1877.68 1467.62 L1880.65 1467.69 L1883.61 1467.76 L1886.57 1467.83 L1889.53 1467.89 L1892.49 1467.95 L1895.45 1468.01 L1898.41 1468.06 L1901.37 1468.11" fill="none" stroke="#ee7d31" stroke-width="2.8" stroke-linejoin="round"/>
<circle cx="1507.55" cy="1206.43" r="6.35" fill="#0c69ab"/>
<circle cx="1528.28" cy="1251.4" r="6.35" fill="#0c69ab"/>
<circle cx="1549.01" cy="1295.69" r="6.35" fill="#0c69ab"/>
<circle cx="1569.74" cy="1348.77" r="6.35" fill="#0c69ab"/>
<circle cx="1590.46" cy="1335.92" r="6.35" fill="#0c69ab"/>
<circle cx="1611.19" cy="1386.64" r="6.35" fill="#0c69ab"/>
<circle cx="1631.92" cy="1390.35" r="6.35" fill="#0c69ab"/>
<circle cx="1652.65" cy="1400.84" r="6.35" fill="#0c69ab"/>
<circle cx="1673.37" cy="1419.43" r="6.35" fill="#0c69ab"/>
<circle cx="1694.1" cy="1421.8" r="6.35" fill="#0c69ab"/>
<circle cx="1797.74" cy="1442.76" r="6.35" fill="#0c69ab"/>
<circle cx="1901.37" cy="1457.3" r="6.35" fill="#0c69ab"/>
<circle cx="1507.55" cy="1234.5" r="6.35" fill="#ee7d31"/>
<circle cx="1528.28" cy="1295.35" r="6.35" fill="#ee7d31"/>
<circle cx="1549.01" cy="1329.84" r="6.35" fill="#ee7d31"/>
<circle cx="1569.74" cy="1377.51" r="6.35" fill="#ee7d31"/>
<circle cx="1590.46" cy="1378.86" r="6.35" fill="#ee7d31"/>
<circle cx="1611.19" cy="1406.24" r="6.35" fill="#ee7d31"/>
<circle cx="1631.92" cy="1429.23" r="6.35" fill="#ee7d31"/>
<circle cx="1652.65" cy="1436.33" r="6.35" fill="#ee7d31"/>
<circle cx="1673.37" cy="1433.97" r="6.35" fill="#ee7d31"/>
<circle cx="1694.1" cy="1455.94" r="6.35" fill="#ee7d31"/>
<circle cx="1797.74" cy="1463.72" r="6.35" fill="#ee7d31"/>
<circle cx="1901.37" cy="1468.11" r="6.35" fill="#ee7d31"/>
<rect x="1466.5" y="1125.2" width="456" height="362.8" class="ax"/>
<line x1="1451.7" y1="1201.4" x2="1466.5" y2="1201.4" class="ax"/>
<text x="1436.3" y="1213.6" class="tk" text-anchor="end">0.8</text>
<line x1="1451.7" y1="1293.3" x2="1466.5" y2="1293.3" class="ax"/>
<text x="1436.3" y="1305.5" class="tk" text-anchor="end">0.6</text>
<line x1="1451.7" y1="1385.3" x2="1466.5" y2="1385.3" class="ax"/>
<text x="1436.3" y="1397.5" class="tk" text-anchor="end">0.4</text>
<line x1="1451.7" y1="1477.6" x2="1466.5" y2="1477.6" class="ax"/>
<text x="1436.3" y="1489.8" class="tk" text-anchor="end">0.2</text>
<line x1="1486.83" y1="1488" x2="1486.83" y2="1502.8" class="ax"/>
<text x="1486.33" y="1540.6" class="tk" text-anchor="middle">0</text>
<line x1="1694.1" y1="1488" x2="1694.1" y2="1502.8" class="ax"/>
<text x="1693.6" y="1540.6" class="tk" text-anchor="middle">10</text>
<line x1="1901.37" y1="1488" x2="1901.37" y2="1502.8" class="ax"/>
<text x="1900.87" y="1540.6" class="tk" text-anchor="middle">20</text>
<text x="1694.5" y="1588.6" class="tk" text-anchor="middle" textLength="361" lengthAdjust="spacing">Number of Clifford gates</text>
<text x="1367" y="1306.6" class="tk" text-anchor="middle" transform="rotate(-90 1367 1306.6)" textLength="257.2" lengthAdjust="spacing">Recovery chance</text>
<line x1="1557.2" y1="1168.2" x2="1599.8" y2="1168.2" stroke="#0c69ab" stroke-width="2.8"/>
<text x="1619.6" y="1173.9" class="lg dj" font-style="italic">F</text>
<text x="1637.6" y="1162.7" class="lg dj" style="font-size:17.8px">N<tspan style="font-size:12.4px" dy="2.7">2</tspan><tspan dy="-2.7" dx="1">N</tspan><tspan style="font-size:12.4px" dy="2.7">4</tspan></text>
<text x="1635.2" y="1180.7" class="lg dj" style="font-size:17.9px">C, ref</text>
<text x="1688.9" y="1173.9" class="lg dj">=</text>
<text x="1716" y="1173.9" class="lg" style="font-size:26.2px">84.79</text>
<text x="1789.9" y="1173.9" class="lg dj">±</text>
<text x="1819.9" y="1173.9" class="lg" style="font-size:26.2px">0.66%</text>
<line x1="1557.2" y1="1223.5" x2="1599.8" y2="1223.5" stroke="#ee7d31" stroke-width="2.8"/>
<text x="1619.6" y="1229.2" class="lg dj" font-style="italic">F</text>
<text x="1637.6" y="1218" class="lg dj" style="font-size:17.8px">N<tspan style="font-size:12.4px" dy="2.7">2</tspan><tspan dy="-2.7" dx="1">N</tspan><tspan style="font-size:12.4px" dy="2.7">4</tspan></text>
<text x="1635.2" y="1236" class="lg dj" style="font-size:17.9px">CZ</text>
<text x="1688.9" y="1229.2" class="lg dj">=</text>
<text x="1716" y="1229.2" class="lg" style="font-size:26.2px">96.73</text>
<text x="1789.9" y="1229.2" class="lg dj">±</text>
<text x="1819.9" y="1229.2" class="lg" style="font-size:26.2px">0.87%</text>
</g>
</svg>
</body>
</html>
